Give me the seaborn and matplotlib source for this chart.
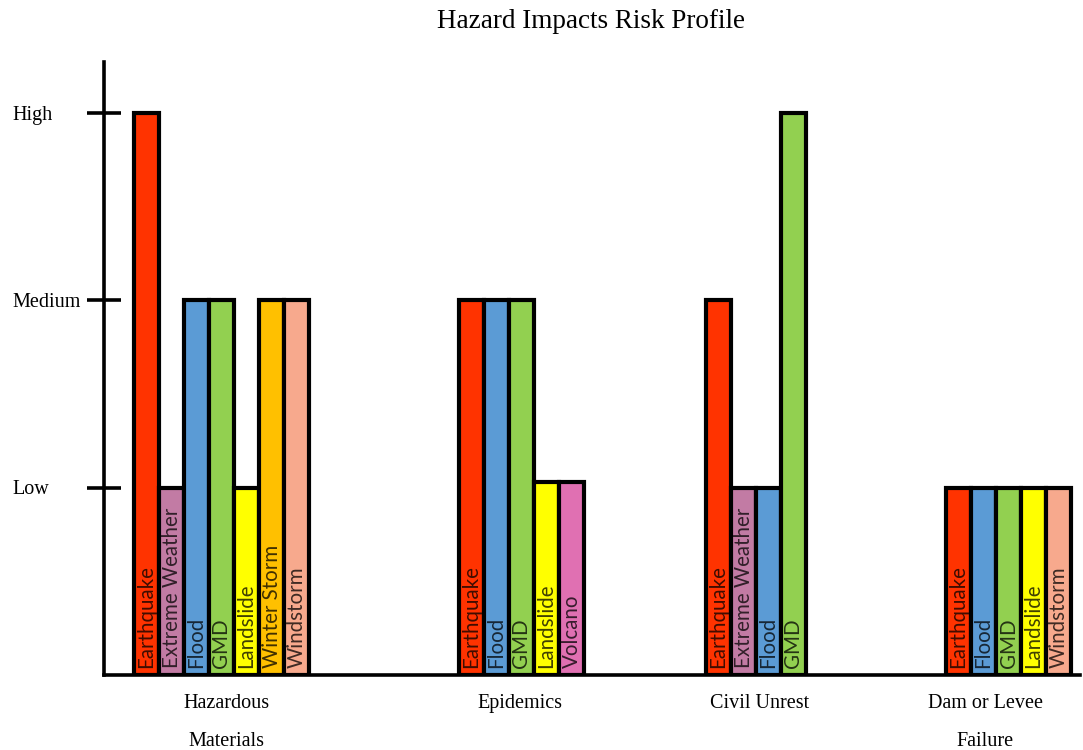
import matplotlib
matplotlib.use("Agg")
import matplotlib.pyplot as plt
import matplotlib.transforms as mtransforms
import matplotlib.colors as mcolors
import pandas as pd
import seaborn as sns

# Risk levels on the vertical axis
levels = ["Low", "Medium", "High"]
level_values = [1, 2, 3]

# Impact categories and the hazards that drive each one
categories = ["Hazardous\nMaterials", "Epidemics", "Civil Unrest", "Dam or Levee\nFailure"]

hazmat_hazards = ["Earthquake", "Extreme Weather", "Flood", "GMD", "Landslide", "Winter Storm", "Windstorm"]
hazmat_risk = [3, 1, 2, 2, 1, 2, 2]

epidemic_hazards = ["Earthquake", "Flood", "GMD", "Landslide", "Volcano"]
epidemic_risk = [2, 2, 2, 1.03, 1.03]

unrest_hazards = ["Earthquake", "Extreme Weather", "Flood", "GMD"]
unrest_risk = [2, 1, 1, 3]

dam_hazards = ["Earthquake", "Flood", "GMD", "Landslide", "Windstorm"]
dam_risk = [1, 1, 1, 1, 1]

hazard_colors = {
    "Earthquake": "#FF3300",
    "Extreme Weather": "#C27BA4",
    "Flood": "#5B9BD5",
    "GMD": "#92D050",
    "Landslide": "#FFFF00",
    "Winter Storm": "#FFC000",
    "Windstorm": "#F7A98D",
    "Volcano": "#E070B2",
}

# Layout in bar widths: left edge of each cluster and centre of each category label
group_starts = [1.2, 14.2, 24.08, 33.68]
label_positions = [4.88, 16.64, 26.24, 35.24]
x_max = 39.04
y_max = 3.273

groups = [
    (hazmat_hazards, hazmat_risk),
    (epidemic_hazards, epidemic_risk),
    (unrest_hazards, unrest_risk),
    (dam_hazards, dam_risk),
]
rows = []
for (hazards, risks), start in zip(groups, group_starts):
    for i, (h, r) in enumerate(zip(hazards, risks)):
        rows.append({"pos": round(start + 0.5 + i, 4), "risk": r, "hazard": h})
df = pd.DataFrame(rows)

sns.set_theme(style="white")
plt.rcParams["font.family"] = ["Liberation Serif", "DejaVu Serif"]

fig = plt.figure(figsize=(10.83, 7.5), dpi=100)
ax = fig.add_axes([104 / 1083, 75 / 750, 976 / 1083, 613 / 750])

sns.barplot(
    data=df, x="pos", y="risk", hue="hazard", palette=hazard_colors,
    native_scale=True, dodge=False, width=1.0, saturation=1,
    edgecolor="black", linewidth=3.0, errorbar=None, legend=False, ax=ax,
)
for p in ax.patches:
    p.set_joinstyle("miter")

# Hazard names written up the inside of each bar
for _, row in df.iterrows():
    rgb = mcolors.to_rgb(hazard_colors[row["hazard"]])
    dark = tuple(c * 0.25 for c in rgb)
    ax.text(row["pos"], 0.035, row["hazard"], rotation=90, ha="center", va="bottom",
            fontsize=14.8, color=dark, family=["Lato", "DejaVu Sans"], zorder=5)

ax.set_xlim(0, x_max)
ax.set_ylim(0, y_max)

for side in ["top", "right"]:
    ax.spines[side].set_visible(False)
for side in ["left", "bottom"]:
    ax.spines[side].set_color("black")
    ax.spines[side].set_linewidth(2.6)

ax.set_yticks(level_values)
ax.tick_params(axis="y", left=True, direction="inout", length=25, width=2.6,
               color="black", labelleft=False)
trans = mtransforms.blended_transform_factory(fig.transFigure, ax.transData)
for v, name in zip(level_values, levels):
    ax.text(12 / 1083, v - 0.012, name, transform=trans, ha="left", va="center",
            fontsize=14.5, color="black")

ax.set_xticks(label_positions)
ax.set_xticklabels(categories, fontsize=14.5, linespacing=2.3, color="black")
ax.tick_params(axis="x", bottom=False, length=0, pad=14)
ax.set_xlabel("")
ax.set_ylabel("")

fig.text(591 / 1083, 1 - 21 / 750, "Hazard Impacts Risk Profile", ha="center", va="center",
         fontsize=19.5, color="black")

fig.savefig("out.png", dpi=100, facecolor="white")
